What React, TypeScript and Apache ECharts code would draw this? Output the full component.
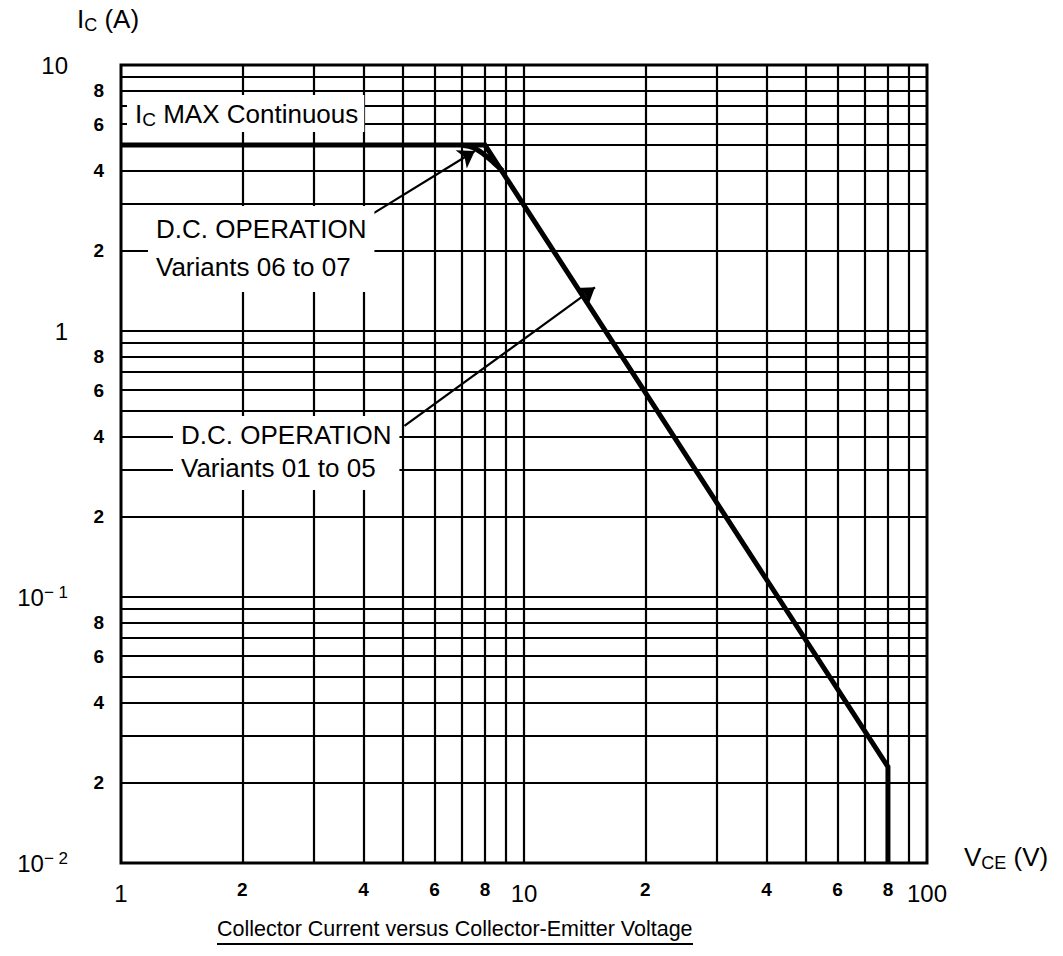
import React, { useEffect, useRef } from "react";
import * as echarts from "echarts";

// ---- data ----
const xDecades = [1, 10];
const yDecades = [0.01, 0.1, 1];
const gridMultipliers = [1, 2, 3, 4, 5, 6, 7, 8, 9];
const xMinorLabels = [2, 4, 6, 8];
const yMinorLabels = [2, 4, 6, 8];

// D.C. operation, variants 01 to 05 : [VCE (V), IC (A)]
const variants01to05 = [
  [1, 5],
  [8, 5],
  [80, 0.023],
  [80, 0.01],
];
// D.C. operation, variants 06 to 07 (rounded knee)
const variants06to07 = [
  [7, 5],
  [7.5, 4.88],
  [7.9, 4.65],
  [8.4, 4.3],
  [8.85, 4.0],
];
// annotation arrows: [from, to]
const arrow0607 = [
  [4.15, 2.72],
  [7.55, 4.75],
];
const arrow0105 = [
  [5.05, 0.44],
  [15, 1.46],
];

const FONT = "'Liberation Sans', Arial, Helvetica, sans-serif";

export default function App() {
  const ref = useRef<HTMLDivElement>(null);

  useEffect(() => {
    if (!ref.current) return;
    const chart = echarts.init(ref.current, undefined, { renderer: "svg" });

    const vLines: any[] = [];
    xDecades.forEach((d) =>
      gridMultipliers.forEach((m) => {
        if (m === 1 && d === 1) return;
        vLines.push({
          xAxis: m * d,
          label: { show: xMinorLabels.includes(m), formatter: String(m) },
        });
      })
    );
    const hLines: any[] = [];
    yDecades.forEach((d) =>
      gridMultipliers.forEach((m) => {
        if (m === 1 && d === 0.01) return;
        hLines.push({
          yAxis: m * d,
          label: { show: yMinorLabels.includes(m), formatter: String(m) },
        });
      })
    );

    const lineStyleGrid = { color: "#000", width: 2.2, type: "solid" as const };

    const option: any = {
      animation: false,
      backgroundColor: "#fff",
      textStyle: { fontFamily: FONT, color: "#000" },
      grid: {
        left: 121,
        right: 1063 - 927,
        top: 65,
        bottom: 956 - 863,
        show: true,
        borderColor: "#000",
        borderWidth: 3,
      },
      xAxis: {
        type: "log",
        logBase: 10,
        min: 1,
        max: 100,
        axisLine: { show: false },
        axisTick: { show: false },
        splitLine: { show: false },
        axisLabel: {
          margin: 18,
          formatter: (v: number) => `{m|${Math.round(v)}}`,
          rich: { m: { fontSize: 24, fontFamily: FONT, color: "#000" } },
        },
      },
      yAxis: {
        type: "log",
        logBase: 10,
        min: 0.01,
        max: 10,
        axisLine: { show: false },
        axisTick: { show: false },
        splitLine: { show: false },
        axisLabel: {
          margin: 53,
          formatter: (v: number) => {
            const e = Math.round(Math.log10(v));
            if (e === 1) return "{m|10}";
            if (e === 0) return "{m|1}";
            return `{m|10}{s|− ${-e}}`;
          },
          rich: {
            m: { fontSize: 24, lineHeight: 27, fontFamily: FONT, color: "#000" },
            s: {
              fontSize: 17,
              lineHeight: 17,
              verticalAlign: "top",
              fontFamily: FONT,
              color: "#000",
            },
          },
        },
      },
      series: [
        {
          name: "grid",
          type: "line",
          data: [],
          silent: true,
          markLine: {
            silent: true,
            z: 1,
            symbol: ["none", "none"],
            emphasis: { disabled: true },
            lineStyle: lineStyleGrid,
            label: {
              position: "start",
              distance: 17,
              fontSize: 19,
              fontWeight: "bold",
              fontFamily: FONT,
              color: "#000",
            },
            data: [...vLines, ...hLines],
          },
        },
        {
          name: "D.C. OPERATION Variants 01 to 05",
          type: "line",
          z: 10,
          data: variants01to05,
          showSymbol: false,
          lineStyle: { color: "#000", width: 5, join: "miter" },
          silent: true,
          markLine: {
            silent: true,
            z: 12,
            symbol: ["none", "arrow"],
            symbolSize: 16,
            lineStyle: { color: "#000", width: 2.2, type: "solid" },
            itemStyle: { color: "#000" },
            label: { show: false },
            emphasis: { disabled: true },
            data: [
              [{ coord: arrow0607[0] }, { coord: arrow0607[1] }],
              [{ coord: arrow0105[0] }, { coord: arrow0105[1] }],
            ],
          },
        },
        {
          name: "D.C. OPERATION Variants 06 to 07",
          type: "line",
          z: 10,
          data: variants06to07,
          smooth: 0.3,
          showSymbol: false,
          lineStyle: { color: "#000", width: 5 },
          silent: true,
        },
      ],
      graphic: [
        {
          type: "text",
          left: 77,
          top: 6,
          z: 100,
          style: {
            text: "{i|I}{s|C}{i| (A)}",
            rich: {
              i: { fontSize: 26, lineHeight: 30, fontFamily: FONT, fill: "#000" },
              s: { fontSize: 18, lineHeight: 18, verticalAlign: "bottom", fontFamily: FONT, fill: "#000" },
            },
          },
        },
        {
          type: "text",
          left: 964,
          top: 844,
          z: 100,
          style: {
            text: "{i|V}{s|CE}{i| (V)}",
            rich: {
              i: { fontSize: 26, lineHeight: 30, fontFamily: FONT, fill: "#000" },
              s: { fontSize: 18, lineHeight: 18, verticalAlign: "bottom", fontFamily: FONT, fill: "#000" },
            },
          },
        },
        {
          type: "text",
          left: 127,
          top: 95,
          z: 100,
          style: {
            text: "{i|I}{s|C}{i| MAX Continuous}",
            backgroundColor: "#fff",
            padding: [3, 6, 3, 8],
            rich: {
              i: { fontSize: 26, lineHeight: 31, fontFamily: FONT, fill: "#000" },
              s: { fontSize: 19, lineHeight: 19, verticalAlign: "bottom", fontFamily: FONT, fill: "#000" },
            },
          },
        },
        {
          type: "text",
          left: 148,
          top: 206,
          z: 100,
          style: {
            text: "D.C. OPERATION\nVariants 06 to 07",
            fontSize: 26,
            lineHeight: 38,
            fontFamily: FONT,
            fill: "#000",
            backgroundColor: "#fff",
            padding: [4, 8, 6, 8],
          },
        },
        {
          type: "text",
          left: 173,
          top: 416,
          z: 100,
          style: {
            text: "D.C. OPERATION\nVariants 01 to 05",
            fontSize: 26,
            lineHeight: 33,
            fontFamily: FONT,
            fill: "#000",
            backgroundColor: "#fff",
            padding: [2, 8, 6, 8],
          },
        },
        {
          type: "text",
          left: 217,
          top: 918,
          z: 100,
          style: {
            text: "Collector Current versus Collector-Emitter Voltage",
            fontSize: 21.5,
            fontFamily: FONT,
            fill: "#000",
          },
        },
        {
          type: "line",
          z: 100,
          shape: { x1: 217, y1: 944, x2: 693, y2: 944 },
          style: { stroke: "#000", lineWidth: 2 },
        },
      ],
    };

    chart.setOption(option);
    return () => chart.dispose();
  }, []);

  return (
    <div
      ref={ref}
      style={{ position: "fixed", left: 0, top: 0, width: 1063, height: 956 }}
    />
  );
}
